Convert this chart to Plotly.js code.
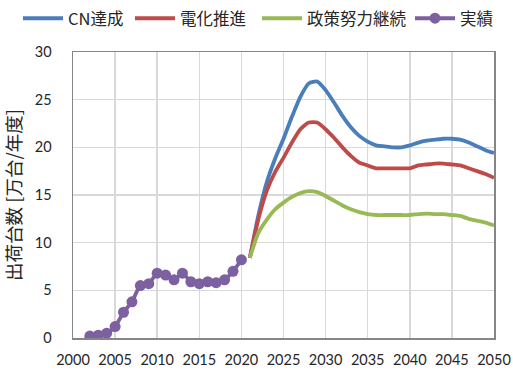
<!DOCTYPE html>
<html>
<head>
<meta charset="utf-8">
<script src="https://cdn.plot.ly/plotly-3.0.1.min.js"></script>
<style>
  html, body { margin: 0; padding: 0; background: #fff; }
  #chart { width: 513px; height: 374px; }
</style>
</head>
<body>
<div id="chart"></div>
<script>
// Actual shipments (万台/年度)
const actualYears = [2002, 2003, 2004, 2005, 2006, 2007, 2008, 2009, 2010, 2011,
                     2012, 2013, 2014, 2015, 2016, 2017, 2018, 2019, 2020];
const actualValues = [0.2, 0.3, 0.5, 1.2, 2.7, 3.8, 5.5, 5.7, 6.8, 6.6,
                      6.1, 6.8, 5.9, 5.7, 5.9, 5.8, 6.1, 7.0, 8.2];

// Scenario projections 2021-2050
const projYears = [2021, 2022, 2023, 2024, 2025, 2026, 2027, 2028, 2029, 2030,
                   2031, 2032, 2033, 2034, 2035, 2036, 2037, 2038, 2039, 2040,
                   2041, 2042, 2043, 2044, 2045, 2046, 2047, 2048, 2049, 2050];
const cnValues = [8.4, 12.8, 16.3, 18.8, 20.9, 23.2, 25.3, 26.7, 26.9, 26.0,
                  24.7, 23.3, 22.1, 21.2, 20.6, 20.2, 20.1, 20.0, 20.0, 20.2,
                  20.5, 20.7, 20.8, 20.9, 20.9, 20.8, 20.5, 20.1, 19.7, 19.4];
const elecValues = [8.4, 12.4, 15.4, 17.4, 18.9, 20.5, 21.9, 22.6, 22.6, 21.9,
                    21.0, 20.0, 19.1, 18.4, 18.1, 17.8, 17.8, 17.8, 17.8, 17.8,
                    18.1, 18.2, 18.3, 18.3, 18.2, 18.1, 17.8, 17.5, 17.2, 16.8];
const policyValues = [8.4, 11.0, 12.4, 13.5, 14.2, 14.8, 15.2, 15.4, 15.3, 14.9,
                      14.4, 13.9, 13.5, 13.2, 13.0, 12.9, 12.9, 12.9, 12.9, 12.9,
                      13.0, 13.05, 13.0, 13.0, 12.9, 12.8, 12.5, 12.3, 12.1, 11.8];

const seriesNames = ['CN達成', '電化推進', '政策努力継続', '実績'];
const xTicks = [2000, 2005, 2010, 2015, 2020, 2025, 2030, 2035, 2040, 2045, 2050];
const yTicks = [0, 5, 10, 15, 20, 25, 30];

const FONT = 'Lato, "Noto Sans CJK JP", sans-serif';
const JP = '"Noto Sans CJK JP", sans-serif';
const TEXT = '#262626';

const traces = [
  {
    x: projYears, y: cnValues, name: seriesNames[0], type: 'scatter', mode: 'lines',
    legend: 'legend',
    line: { color: '#4a7ebb', width: 3.8, shape: 'spline', smoothing: 0.6 }
  },
  {
    x: projYears, y: elecValues, name: seriesNames[1], type: 'scatter', mode: 'lines',
    legend: 'legend2',
    line: { color: '#be4b48', width: 3.8, shape: 'spline', smoothing: 0.6 }
  },
  {
    x: projYears, y: policyValues, name: seriesNames[2], type: 'scatter', mode: 'lines',
    legend: 'legend3',
    line: { color: '#98b954', width: 3.8, shape: 'spline', smoothing: 0.6 }
  },
  {
    x: actualYears, y: actualValues, name: seriesNames[3], type: 'scatter', mode: 'lines+markers',
    legend: 'legend4',
    line: { color: '#7d60a0', width: 3.8, shape: 'spline', smoothing: 0.6 },
    marker: { color: '#7d60a0', size: 11 }
  }
];

// one legend box per series, laid out in a single row across the top
function legendAt(px) {
  return {
    orientation: 'h',
    xref: 'container', yref: 'container',
    x: px / 513, y: 1 - 1 / 374, xanchor: 'left', yanchor: 'top',
    font: { family: JP, size: 16.5, color: TEXT },
    itemwidth: 40,
    bgcolor: 'rgba(0,0,0,0)',
    borderwidth: 0
  };
}

const layout = {
  width: 513,
  height: 374,
  margin: { l: 73, r: 19, t: 52, b: 36 },
  paper_bgcolor: '#ffffff',
  plot_bgcolor: '#ffffff',
  font: { family: FONT, size: 13, color: TEXT },
  showlegend: true,
  legend: legendAt(18),
  legend2: legendAt(130),
  legend3: legendAt(257),
  legend4: legendAt(410),
  xaxis: {
    range: [2000, 2050],
    tickvals: xTicks,
    ticktext: xTicks.map(String),
    showgrid: true, gridcolor: '#d9d9d9', gridwidth: 1.5,
    showline: true, linecolor: '#868686', linewidth: 1.5, mirror: true,
    zeroline: false, ticks: '',
    ticklabelstandoff: 8,
    tickfont: { family: FONT, size: 14.5, color: TEXT }
  },
  yaxis: {
    range: [0, 30],
    tickvals: yTicks,
    ticktext: yTicks.map(String),
    showgrid: true, gridcolor: '#d9d9d9', gridwidth: 1.5,
    showline: true, linecolor: '#868686', linewidth: 1.5, mirror: true,
    zeroline: false, ticks: '',
    ticklabelstandoff: 17,
    tickfont: { family: FONT, size: 14.5, color: TEXT },
    title: {
      text: '出荷台数 [万台/年度]',
      font: { family: JP, size: 18.5, color: TEXT },
      standoff: 8
    }
  }
};

Plotly.newPlot('chart', traces, layout, { displayModeBar: false, staticPlot: true });
</script>
</body>
</html>
